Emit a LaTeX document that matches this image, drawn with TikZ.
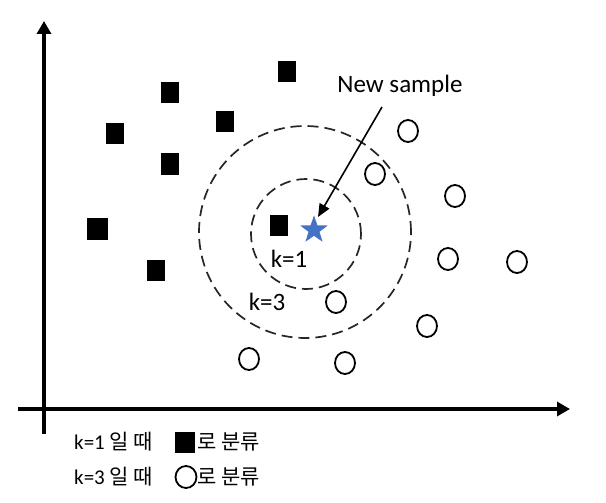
\documentclass[tikz,border=0pt]{standalone}
\usepackage{fontspec}
\setmainfont{Carlito}
\newfontfamily\kr{Noto Sans CJK KR}
\usetikzlibrary{arrows.meta,shapes.geometric}
\tikzset{
  sq/.style={fill=black,draw=none,minimum width=18pt,minimum height=21pt,inner sep=0pt},
  oc/.style={draw=black,line width=1.8pt,ellipse,minimum width=20pt,minimum height=22pt,inner sep=0pt},
  dcirc/.style={draw=black!85,line width=1.7pt,dash pattern=on 11pt off 6pt},
  axis/.style={line width=3.4pt,-{Triangle[length=13pt,width=14pt]}},
  lbl/.style={font=\fontsize{25}{30}\selectfont,inner sep=0pt},
  leg/.style={font=\fontsize{21}{25}\selectfont,inner sep=0pt,anchor=west},
}
\begin{document}
\begin{tikzpicture}[x=1pt,y=-1pt]
\useasboundingbox (0,0) rectangle (606,503);
% axes
\coordinate (yb) at (44,434);
\coordinate (yt) at (44,21);
\coordinate (xl) at (18,409);
\coordinate (xr) at (570,409);
\draw[axis] (yb) -- (yt);
\draw[axis] (xl) -- (xr);
% dashed circles
\node[dcirc,circle,minimum size=212pt,inner sep=0pt] (c3) at (305,232) {};
\node[dcirc,circle,minimum size=110pt,inner sep=0pt] (c1) at (306,234) {};
% squares
\node[sq] (s1) at (287,72) {};
\node[sq] (s2) at (170,93) {};
\node[sq] (s3) at (115,134) {};
\node[sq] (s4) at (225,122) {};
\node[sq] (s5) at (170,164) {};
\node[sq,minimum width=21pt,minimum height=22pt] (s6) at (97,229) {};
\node[sq] (s7) at (156,270) {};
\node[sq] (s8) at (279,225) {};
% open circles
\node[oc] (o1) at (408,131) {};
\node[oc] (o2) at (375,174) {};
\node[oc] (o3) at (455,196) {};
\node[oc] (o4) at (448,259) {};
\node[oc] (o5) at (517,262) {};
\node[oc] (o6) at (336,302) {};
\node[oc] (o7) at (427,326) {};
\node[oc] (o8) at (249,359) {};
\node[oc] (o9) at (345,363) {};
% star
\node[star,star points=5,star point ratio=2.5,fill={rgb,255:red,68;green,114;blue,196},minimum size=29pt,inner sep=0pt] (st) at (314,230) {};
% labels
\node[lbl] (ns) at (400,86) {New sample};
\node[lbl] (k1) at (289,259) {k=1};
\node[lbl] (k3) at (267,302) {k=3};
% arrow
\coordinate (as) at (382,107);
\coordinate (at) at (318,217);
\draw[line width=1.6pt,-{Triangle[length=13pt,width=11pt]}] (as) -- (at);
% legend
\node[leg] (l1) at (74,442) {k=1 {\kr 일 때}};
\node[sq,minimum width=20pt,minimum height=21pt] (lsq) at (185,442) {};
\node[leg] (l1b) at (197,442) {\kr 로 분류};
\node[leg] (l2) at (74,477) {k=3 {\kr 일 때}};
\node[oc,minimum width=21pt,minimum height=22pt] (lci) at (186,477) {};
\node[leg] (l2b) at (197,477) {\kr 로 분류};
\end{tikzpicture}
\end{document}
